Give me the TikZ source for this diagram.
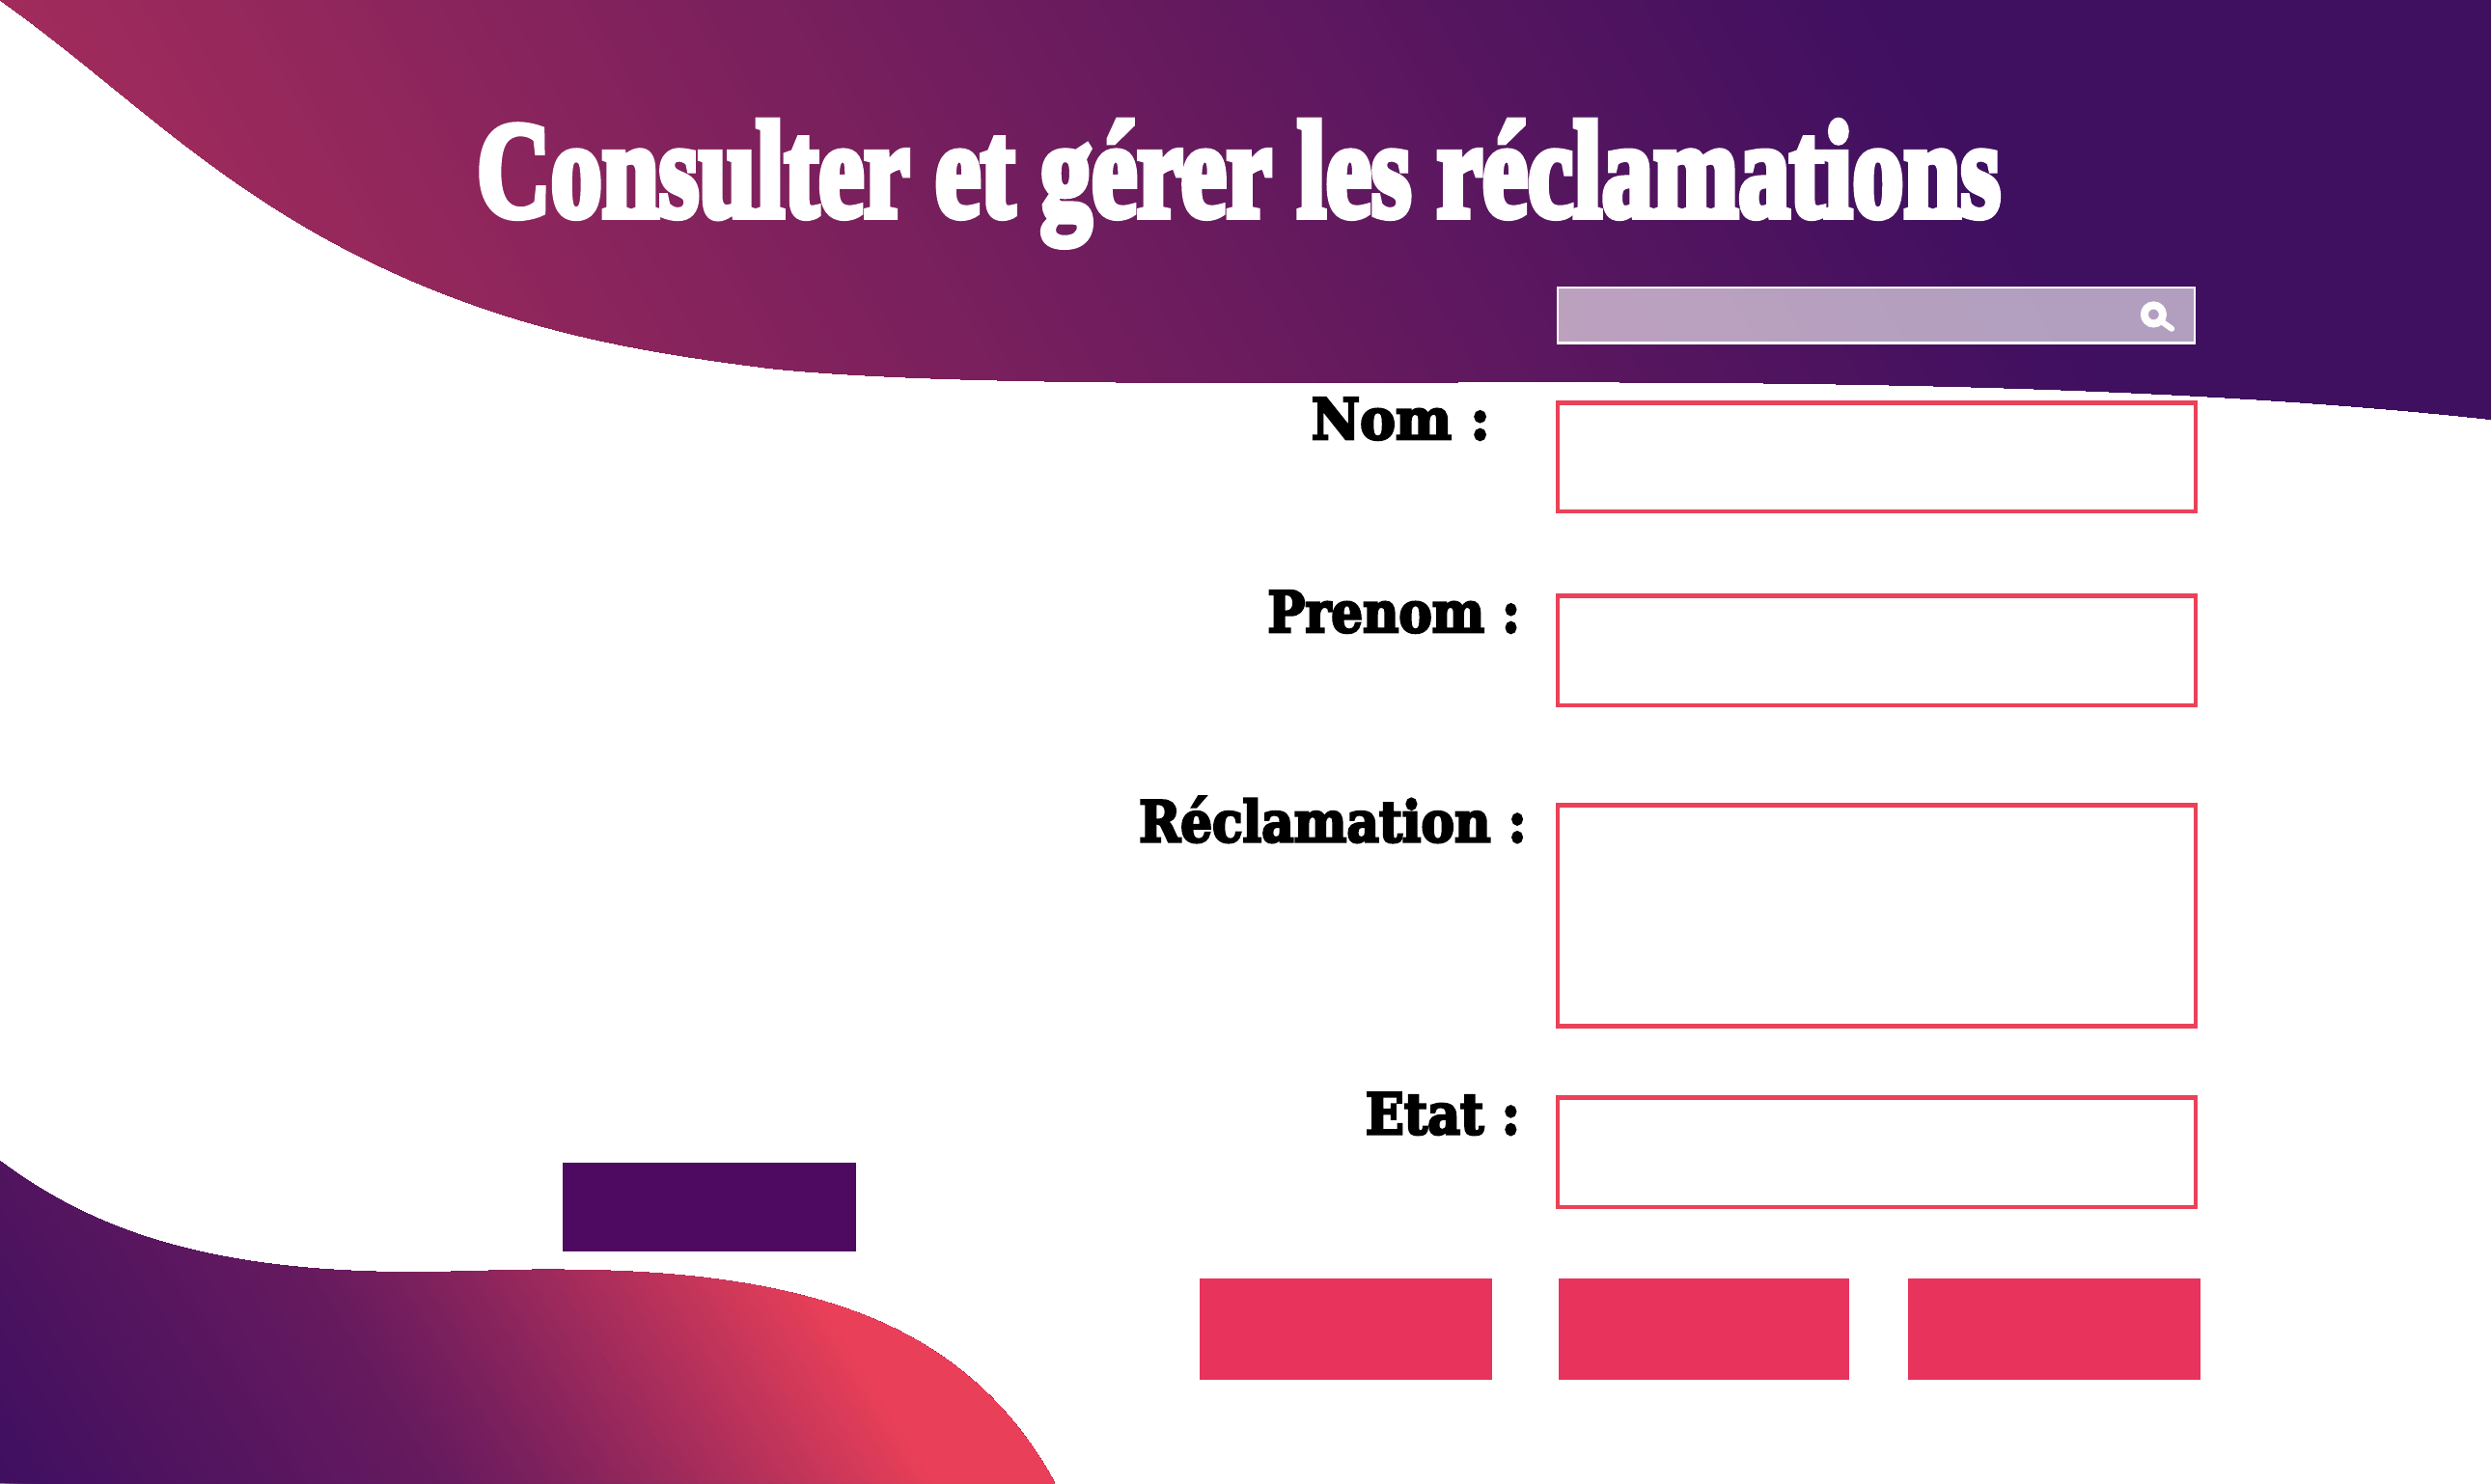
\documentclass[tikz,border=0pt]{standalone}
\usepackage{fontspec}
\newfontfamily\titlefont[FakeBold=5.5]{Liberation Serif Bold}
\newfontfamily\labelfont[FakeBold=4.5]{DejaVu Serif Bold}
\definecolor{pinkA}{HTML}{EA4058}
\definecolor{purpleA}{HTML}{3F0F60}
\definecolor{btnPink}{HTML}{E8335C}
\definecolor{btnPurple}{HTML}{4E0A60}
\definecolor{boxRed}{HTML}{EA4258}
\tikzset{
  field/.style={draw=boxRed,line width=4.5pt,fill=white},
  pinkbtn/.style={fill=btnPink},
  formlabel/.style={anchor=base east,inner sep=0pt,text=black},
}
\newcommand{\labeltext}[2]{\scalebox{#1}[1.12]{\labelfont\fontsize{52.5}{60}\selectfont #2}}
\begin{document}
\begin{tikzpicture}[x=1.64604pt,y=-1.64604pt]
\useasboundingbox (0,0) rectangle (1568,934);
\fill[white] (0,0) rectangle (1568,934);
% top wave
\begin{scope}
\clip (0,0) .. controls (45,32) and (85,68) .. (124,97)
  .. controls (190,147) and (250,176) .. (310,196)
  .. controls (370,216) and (430,225) .. (486,232)
  .. controls (560,239.5) and (680,241) .. (800,241)
  .. controls (1050,240) and (1330,238) .. (1568,264)
  -- (1568,0) -- cycle;
\begin{scope}[shift={(-831,100)},rotate=30]
  \fill[pinkA] (-1500,-2500) rectangle (4000,2500);
  \foreach \i in {0,...,199}{
    \pgfmathsetmacro\pct{100-\i/1.99}
    \pgfmathsetmacro\xa{\i*9}
    \fill[pinkA!\pct!purpleA] (\xa,-2500) rectangle (4000,2500);
  }
\end{scope}
\end{scope}
% bottom wave
\begin{scope}
\clip (0,731) .. controls (55,772) and (125,800) .. (254,801)
  .. controls (300,801) and (320,799) .. (357,799.5)
  .. controls (420,800) and (480,806) .. (530,823)
  .. controls (590,843) and (635,880) .. (664,934)
  -- (0,934) -- cycle;
\begin{scope}[shift={(0,934)},rotate=32]
  \fill[purpleA] (-1500,-2000) rectangle (3000,2000);
  \foreach \i in {0,...,199}{
    \pgfmathsetmacro\uu{\i*2.5+0.1}
    \pgfmathsetmacro\pct{\uu<226 ? \uu*0.0973 : min(100,22+78*pow(max((\uu-226)/274,0.001),1.2))}
    \fill[pinkA!\pct!purpleA] (\uu,-2000) rectangle (3000,2000);
  }
\end{scope}
\end{scope}
% title
\node[anchor=base west,inner sep=0pt,text=white] (title) at (300,136)
  {\scalebox{0.9}[1.2]{\titlefont\fontsize{118}{130}\selectfont Consulter et gérer les réclamations}};
% search box
\draw[white,line width=2.5pt,fill=white,fill opacity=0.6] (980.5,181) rectangle (1381.5,216);
\draw[white,line width=8pt] (1355.6,198) circle (5.8);
\draw[white,line width=6pt,line cap=round] (1360,202) -- (1367,207);
% fields
\draw[field] (980.5,253.5) rectangle (1382,322);
\draw[field] (980.5,375) rectangle (1382,444);
\draw[field] (980.5,507) rectangle (1382,646);
\draw[field] (980.5,691) rectangle (1382,760);
% labels
\node[formlabel] (nom) at (938,276.5) {\labeltext{1.05}{Nom :}};
\node[formlabel] (prenom) at (957,398) {\labeltext{0.98}{Prenom :}};
\node[formlabel] (recl) at (961,530) {\labeltext{0.985}{Réclamation :}};
\node[formlabel] (etat) at (957,714) {\labeltext{1}{Etat :}};
% buttons
\fill[btnPurple] (354,732) rectangle (539,788);
\fill[pinkbtn] (755,805) rectangle (939,869);
\fill[pinkbtn] (981,805) rectangle (1164,869);
\fill[pinkbtn] (1201,805) rectangle (1385,869);
\end{tikzpicture}
\end{document}
